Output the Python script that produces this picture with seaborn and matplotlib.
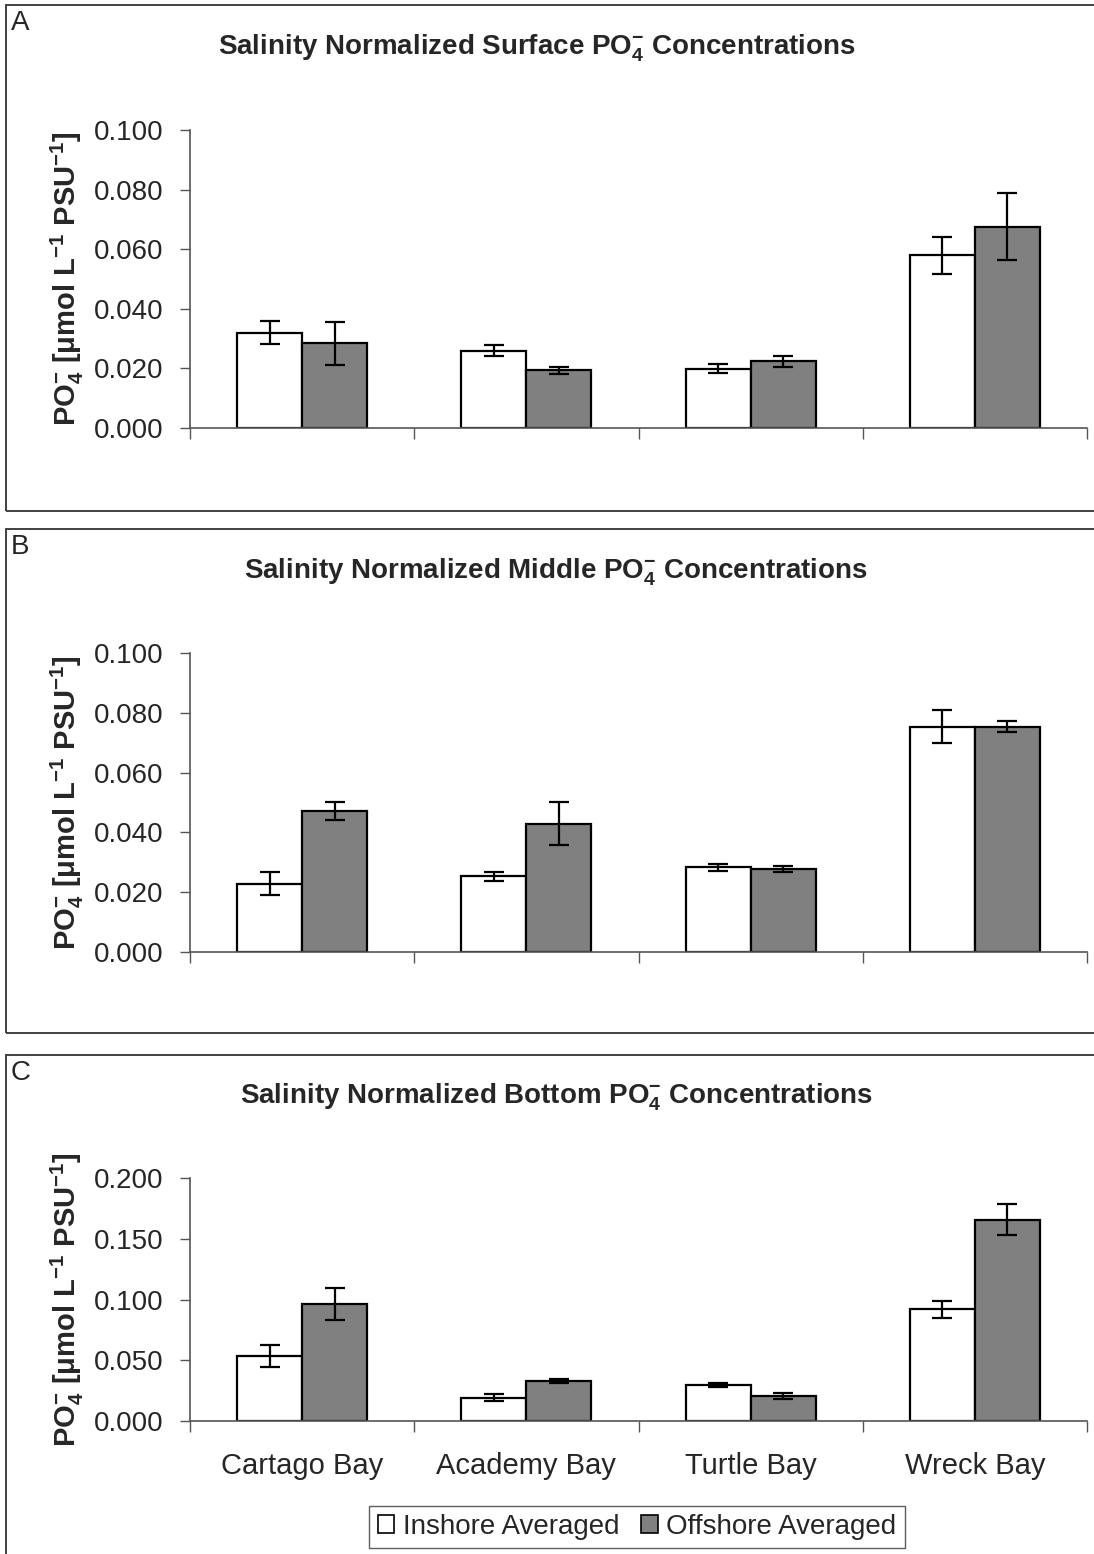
import numpy as np
import pandas as pd
import seaborn as sns
import matplotlib.pyplot as plt
from matplotlib.patches import Rectangle
from matplotlib.ticker import FormatStrFormatter, FixedLocator

# Data
bays = ["Cartago Bay", "Academy Bay", "Turtle Bay", "Wreck Bay"]
locations = ["Inshore Averaged", "Offshore Averaged"]

surface_in = [0.0320, 0.0259, 0.0199, 0.0579]
surface_in_err = [0.0039, 0.0019, 0.0016, 0.0063]
surface_off = [0.0284, 0.0193, 0.0224, 0.0675]
surface_off_err = [0.0072, 0.0012, 0.0019, 0.0112]

middle_in = [0.0229, 0.0253, 0.0283, 0.0754]
middle_in_err = [0.0037, 0.0016, 0.0012, 0.0055]
middle_off = [0.0470, 0.0429, 0.0278, 0.0754]
middle_off_err = [0.0030, 0.0072, 0.0009, 0.0018]

bottom_in = [0.0532, 0.0192, 0.0294, 0.0919]
bottom_in_err = [0.0090, 0.0030, 0.0016, 0.0069]
bottom_off = [0.0963, 0.0327, 0.0206, 0.1658]
bottom_off_err = [0.0135, 0.0017, 0.0023, 0.0129]

panels = [
    ("A", "Surface", surface_in, surface_in_err, surface_off, surface_off_err, 0.100, 0.020),
    ("B", "Middle", middle_in, middle_in_err, middle_off, middle_off_err, 0.100, 0.020),
    ("C", "Bottom", bottom_in, bottom_in_err, bottom_off, bottom_off_err, 0.200, 0.050),
]

sns.set_style("white")
plt.rcParams['font.family'] = ['Liberation Sans', 'DejaVu Sans']
plt.rcParams['mathtext.fontset'] = 'custom'
plt.rcParams['mathtext.rm'] = 'Liberation Sans'
plt.rcParams['mathtext.it'] = 'Liberation Sans:italic'
plt.rcParams['mathtext.bf'] = 'Liberation Sans:bold'

W, H = 1094, 1554
fig = plt.figure(figsize=(W / 100, H / 100), dpi=100)

# pixel layout: (box top, box bottom, axes top, axes bottom, title y, title x)
layout = [
    (5, 511, 130, 428, 48, 537),
    (529, 1033, 653, 952, 572, 556),
    (1055, 1560, 1178, 1421, 1097, 556),
]

axes = []
for (letter, depth, v_in, e_in, v_off, e_off, ymax, ystep), (bt, bb, at, ab, ty, tx) in zip(panels, layout):
    # panel frame
    fig.patches.append(Rectangle((6 / W, 1 - bb / H), 1.2, (bb - bt) / H,
                                 transform=fig.transFigure, fill=False,
                                 edgecolor='#333333', linewidth=1.3))
    fig.text(11 / W, 1 - (bt + 18) / H, letter, fontsize=20, va='center', ha='left')
    fig.text(tx / W, 1 - ty / H,
             r"Salinity Normalized %s $\mathbf{PO_4^{-}}$ Concentrations" % depth,
             fontsize=20, fontweight='bold', ha='center', va='center')

    ax = fig.add_axes([190 / W, 1 - ab / H, 897 / W, (ab - at) / H])
    df = pd.DataFrame({
        "bay": bays * 2,
        "loc": [locations[0]] * 4 + [locations[1]] * 4,
        "value": v_in + v_off,
    })
    sns.barplot(data=df, x="bay", y="value", hue="loc", order=bays, hue_order=locations,
                palette=["white", "#808080"], edgecolor="black", linewidth=1.6,
                width=0.58, errorbar=None, legend=False, ax=ax, saturation=1)
    for cont, errs in zip(ax.containers, [e_in, e_off]):
        xs = [p.get_x() + p.get_width() / 2 for p in cont.patches]
        hs = [p.get_height() for p in cont.patches]
        ax.errorbar(xs, hs, yerr=errs, fmt='none', ecolor='black',
                    elinewidth=1.6, capsize=7, capthick=1.6)

    ax.set_xlim(-0.5, 3.5)
    ax.set_ylim(0, ymax)
    ax.set_yticks(np.arange(0, ymax + ystep / 2, ystep))
    ax.yaxis.set_major_formatter(FormatStrFormatter('%.3f'))
    ax.xaxis.set_minor_locator(FixedLocator([-0.5, 0.5, 1.5, 2.5, 3.5]))
    ax.tick_params(axis='y', direction='out', length=7, width=1, color='#555555',
                   labelsize=20, left=True, pad=12)
    ax.tick_params(axis='x', which='major', length=0, labelsize=21, pad=22)
    ax.tick_params(axis='x', which='minor', direction='out', length=8, width=1,
                   color='#555555', bottom=True)
    for s in ['top', 'right']:
        ax.spines[s].set_visible(False)
    for s in ['left', 'bottom']:
        ax.spines[s].set_color('#555555')
        ax.spines[s].set_linewidth(1.2)
    ax.set_xlabel("")
    ax.set_ylabel(r"$\mathbf{PO_4^{-}\ [\mu mol\ L^{-1}\ PSU^{-1}]}$", fontsize=21, labelpad=6)
    if letter != "C":
        ax.set_xticklabels([])
    axes.append(ax)

# legend
handles = [Rectangle((0, 0), 1, 1, facecolor=c, edgecolor='black', linewidth=1.2)
           for c in ["white", "#808080"]]
fig.legend(handles, locations, loc='center', bbox_to_anchor=(637 / W, 1 - 1527 / H),
           ncol=2, fontsize=20, frameon=True, fancybox=False, edgecolor='#333333',
           handlelength=0.6, handleheight=0.6, handletextpad=0.3, columnspacing=0.8,
           borderpad=0.3, borderaxespad=0)

fig.savefig("out.png", dpi=100, facecolor='white')
